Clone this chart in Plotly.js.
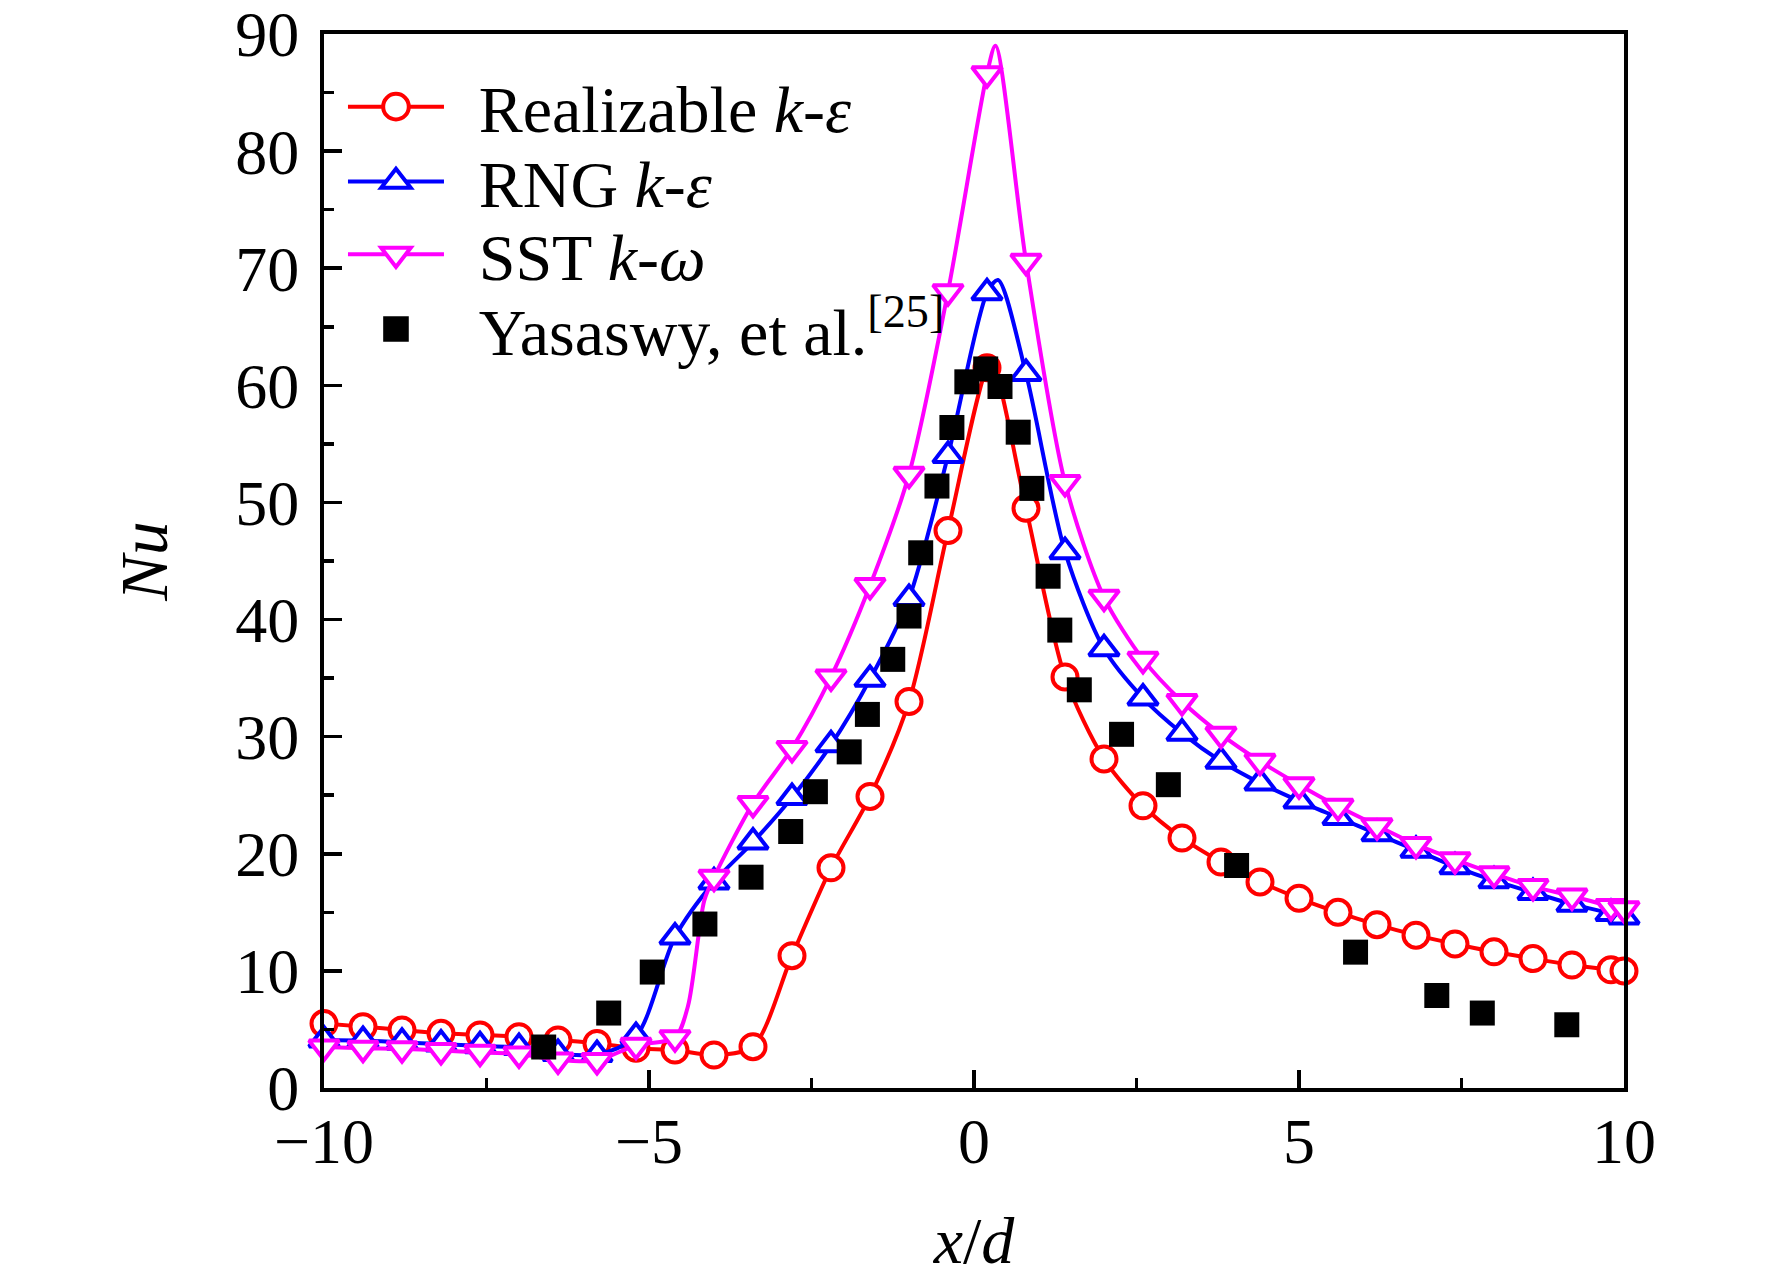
<!DOCTYPE html>
<html>
<head>
<meta charset="utf-8">
<script src="https://cdn.plot.ly/plotly-3.0.1.min.js"></script>
<style>html,body{margin:0;padding:0;background:#fff;}#chart{width:1772px;height:1282px;}</style>
</head>
<body>
<div id="chart"></div>
<script>
// ---- data ----
const xModel = [-10, -9.4, -8.8, -8.2, -7.6, -7.0, -6.4, -5.8, -5.2, -4.6, -4.0, -3.4, -2.8, -2.2, -1.6, -1.0, -0.4, 0.2, 0.8, 1.4, 2.0, 2.6, 3.2, 3.8, 4.4, 5.0, 5.6, 6.2, 6.8, 7.4, 8.0, 8.6, 9.2, 9.8, 10];
const nuRealizable = [5.5, 5.24, 4.95, 4.67, 4.53, 4.38, 4.1, 3.81, 3.39, 3.24, 2.82, 3.53, 11.3, 18.8, 24.9, 33.0, 47.6, 61.5, 49.5, 35.1, 28.1, 24.1, 21.35, 19.3, 17.6, 16.2, 15.0, 13.95, 13.05, 12.3, 11.63, 11.05, 10.5, 10.1, 10.0];
const nuRNG = [4.1, 4.05, 3.9, 3.75, 3.6, 3.45, 2.95, 2.85, 4.4, 12.9, 17.6, 21.0, 24.8, 29.3, 34.9, 41.8, 54.0, 67.9, 61.0, 45.8, 37.5, 33.3, 30.3, 27.9, 26.05, 24.5, 23.1, 21.7, 20.3, 18.9, 17.7, 16.7, 15.7, 14.9, 14.6];
const nuSST = [3.5, 3.4, 3.35, 3.2, 3.05, 2.9, 2.4, 2.35, 3.65, 4.3, 18.0, 24.3, 29.0, 35.1, 42.9, 52.4, 68.0, 86.6, 70.6, 51.7, 41.9, 36.6, 33.0, 30.2, 27.9, 25.9, 24.05, 22.4, 20.8, 19.5, 18.3, 17.2, 16.4, 15.5, 15.3];

// extra curve points between markers (peaks / sharp knees)
const realizableCurveX = [0.28];
const realizableCurveY = [61.8];
const rngCurveX = [0.37];
const rngCurveY = [69.0];
const sstCurveX = [-4.4, -4.15, 0.33];
const sstCurveY = [7.0, 16.0, 89.0];

// experiment (Yasaswy, et al.)
const xExp = [-6.62, -5.62, -4.95, -4.14, -3.43, -2.82, -2.44, -1.92, -1.64, -1.25, -1.0, -0.82, -0.57, -0.34, -0.11, 0.18, 0.40, 0.68, 0.89, 1.14, 1.32, 1.62, 2.27, 2.99, 4.04, 5.87, 7.12, 7.82, 9.12];
const nuExp = [3.5, 6.4, 9.9, 14.0, 18.0, 21.9, 25.3, 28.7, 31.9, 36.6, 40.3, 45.7, 51.4, 56.4, 60.3, 61.4, 59.9, 56.0, 51.2, 43.7, 39.1, 34.0, 30.2, 25.9, 19.0, 11.6, 7.9, 6.4, 5.4];

const seriesNames = ['Realizable <i>k</i>-<i>ε</i>', 'RNG <i>k</i>-<i>ε</i>', 'SST <i>k</i>-<i>ω</i>', 'Yasaswy, et al.<sup>[25]</sup>'];
const xTickVals = [-10, -5, 0, 5, 10];
const yTickVals = [0, 10, 20, 30, 40, 50, 60, 70, 80, 90];

// ---- build traces ----
function merged(xs, ys, ex, ey) {
  const pts = xs.map((x, i) => [x, ys[i]]).concat(ex.map((x, i) => [x, ey[i]]));
  pts.sort((a, b) => a[0] - b[0]);
  return {x: pts.map(p => p[0]), y: pts.map(p => p[1])};
}

const FONT = 'Liberation Serif, Times New Roman, serif';
const LW = 4;
const GAP = '\u00a0\u2009';
const models = [
  {y: nuRealizable, ex: realizableCurveX, ey: realizableCurveY, color: '#ff0000', symbol: 'circle', size: 25, name: seriesNames[0], legend: 'legend'},
  {y: nuRNG, ex: rngCurveX, ey: rngCurveY, color: '#0000ff', symbol: 'triangle-up', size: 26, name: seriesNames[1], legend: 'legend2'},
  {y: nuSST, ex: sstCurveX, ey: sstCurveY, color: '#ff00ff', symbol: 'triangle-down', size: 26, name: seriesNames[2], legend: 'legend3'}
];

const traces = [];
models.forEach(m => {
  const c = merged(xModel, m.y, m.ex, m.ey);
  traces.push({x: c.x, y: c.y, mode: 'lines', type: 'scatter', showlegend: false, hoverinfo: 'skip',
    line: {color: m.color, width: LW, shape: 'spline', smoothing: 0.8}, cliponaxis: false});
  traces.push({x: xModel, y: m.y, mode: 'markers', type: 'scatter', showlegend: false, cliponaxis: false,
    marker: {symbol: m.symbol, size: m.size, color: '#ffffff', line: {color: m.color, width: LW}}});
});
traces.push({x: xExp, y: nuExp, mode: 'markers', type: 'scatter', showlegend: false, cliponaxis: false,
  marker: {symbol: 'square', size: 25, color: '#000000', line: {width: 0}}});

// legend-only entries (one legend box per row to control row spacing)
models.forEach(m => {
  traces.push({x: [null], y: [null], mode: 'lines+markers', type: 'scatter', name: GAP + m.name, legend: m.legend,
    line: {color: m.color, width: LW},
    marker: {symbol: m.symbol, size: m.size, color: '#ffffff', line: {color: m.color, width: LW}}});
});
traces.push({x: [null], y: [null], mode: 'markers', type: 'scatter', name: GAP + seriesNames[3], legend: 'legend4',
  marker: {symbol: 'square', size: 25, color: '#000000', line: {width: 0}}});

const axisCommon = {
  showgrid: false, zeroline: false, showline: true, linecolor: '#000', linewidth: 4, mirror: true,
  ticks: 'inside', ticklen: 18, tickwidth: 3.5, tickcolor: '#000', ticklabeloverflow: 'allow',
  tickfont: {family: FONT, size: 64, color: '#000'}
};

function legendAt(yPos) {
  return {
    x: 0.0146, y: yPos, xanchor: 'left', yanchor: 'middle',
    bgcolor: 'rgba(0,0,0,0)', borderwidth: 0,
    font: {family: FONT, size: 66, color: '#000'},
    itemwidth: 96
  };
}

const layout = {
  width: 1772, height: 1282,
  margin: {l: 324, r: 148, t: 34, b: 194},
  paper_bgcolor: '#fff', plot_bgcolor: '#fff',
  font: {family: FONT, color: '#000'},
  xaxis: Object.assign({}, axisCommon, {
    range: [-10, 10], tickvals: xTickVals, ticklabelstandoff: -6,
    minor: {dtick: 2.5, tick0: -10, ticks: 'inside', ticklen: 10, tickwidth: 3.5, tickcolor: '#000', showgrid: false},
    title: {text: '<i>x</i>/<i>d</i>', font: {family: FONT, size: 66, color: '#000'}, standoff: 42}
  }),
  yaxis: Object.assign({}, axisCommon, {
    range: [0, 90], tickvals: yTickVals, ticklabelstandoff: 8,
    minor: {dtick: 5, tick0: 0, ticks: 'inside', ticklen: 10, tickwidth: 3.5, tickcolor: '#000', showgrid: false},
    title: {text: '<i>Nu</i>', font: {family: FONT, size: 68, color: '#000'}, standoff: 46}
  }),
  legend: legendAt(0.931),
  legend2: legendAt(0.860),
  legend3: legendAt(0.791),
  legend4: legendAt(0.720),
  showlegend: true
};

Plotly.newPlot('chart', traces, layout, {staticPlot: true, displayModeBar: false}).then(gd => {
  // legend symbols are capped at 16 px by Plotly; enlarge them to the plotted marker size
  gd.querySelectorAll('.legendpoints path.scatterpts').forEach(p => {
    const t = p.getAttribute('transform') || '';
    p.setAttribute('transform', t + ' scale(1.6)');
    p.style.vectorEffect = 'non-scaling-stroke';
  });
});
</script>
</body>
</html>
